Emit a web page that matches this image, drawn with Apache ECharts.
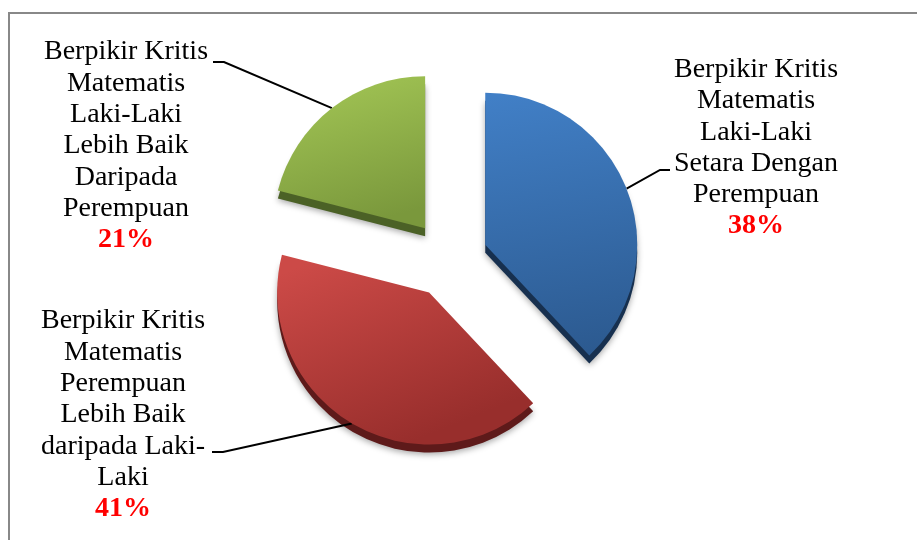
<!DOCTYPE html>
<html>
<head>
<meta charset="utf-8">
<script src="https://cdn.jsdelivr.net/npm/echarts@6/dist/echarts.min.js"></script>
<style>html,body{margin:0;padding:0;background:#fff}#c{width:917px;height:540px}</style>
</head>
<body>
<div id="c"></div>
<script>
// Data
const categories = [
  'Berpikir Kritis\nMatematis\nLaki-Laki\nSetara Dengan\nPerempuan',
  'Berpikir Kritis\nMatematis\nPerempuan\nLebih Baik\ndaripada Laki-\nLaki',
  'Berpikir Kritis\nMatematis\nLaki-Laki\nLebih Baik\nDaripada\nPerempuan'
];
const values = [38, 41, 21];

// Styles / layout
const topColors = [['#417fc6', '#2c5a90'], ['#cc4a47', '#982e2c'], ['#a3c655', '#7a983c']];
const sideColors = ['#17304f', '#5e1a1a', '#4b6126'];
const labelPos = [
  {x: 756, y: 148, line: [[660, 170], [670, 170]]},
  {x: 123, y: 415, line: [[223, 452], [212, 452]]},
  {x: 126, y: 146, line: [[224, 62], [213, 62]]}
];
const center = [449, 259];
const R = 152, depth = 8, offset = 39;

function grad(c) {
  return new echarts.graphic.LinearGradient(0.2, 0, 0.5, 1, [
    {offset: 0, color: c[0]}, {offset: 1, color: c[1]}
  ]);
}

// explode offsets derived from each slice's mid angle
const total = values.reduce((a, b) => a + b, 0);
let acc = 0;
const sliceCenters = values.map(v => {
  const mid = (acc + v / 2) / total * 2 * Math.PI;
  acc += v;
  return [center[0] + offset * Math.sin(mid), center[1] - offset * Math.cos(mid)];
});

const series = [];
values.forEach((_, k) => {
  // side (depth) layer
  series.push({
    type: 'pie', silent: true, z: 1,
    center: [sliceCenters[k][0], sliceCenters[k][1] + depth], radius: R,
    startAngle: 90, clockwise: true, emphasis: {disabled: true},
    label: {show: false}, labelLine: {show: false},
    data: values.map((v, i) => ({
      value: v, name: categories[i],
      itemStyle: i === k
        ? {color: sideColors[i], shadowBlur: 6, shadowColor: 'rgba(0,0,0,0.35)', shadowOffsetY: 2}
        : {color: 'rgba(0,0,0,0)'}
    }))
  });
});
values.forEach((_, k) => {
  series.push({
    type: 'pie', silent: true, z: 2,
    center: sliceCenters[k], radius: R,
    startAngle: 90, clockwise: true, emphasis: {disabled: true},
    label: {
      show: true, position: 'outside',
      fontFamily: 'Liberation Serif', fontSize: 28, lineHeight: 31.3,
      color: '#000', align: 'center',
      formatter: p => p.name + '\n{p|' + p.value + '%}',
      rich: {
        p: {fontFamily: 'Liberation Serif', fontSize: 28, lineHeight: 31.3, fontWeight: 'bold', color: '#ff0000', align: 'center'}
      }
    },
    labelLine: {show: true, lineStyle: {color: '#000', width: 2}},
    labelLayout: function (params) {
      const lp = labelPos[params.dataIndex];
      const start = params.labelLinePoints ? params.labelLinePoints[0] : null;
      const out = {x: lp.x, y: lp.y, align: 'center', verticalAlign: 'middle'};
      if (start) out.labelLinePoints = [start, lp.line[0], lp.line[1]];
      return out;
    },
    data: values.map((v, i) => ({
      value: v, name: categories[i],
      itemStyle: {color: i === k ? grad(topColors[i]) : 'rgba(0,0,0,0)'},
      label: {show: i === k},
      labelLine: {show: i === k}
    }))
  });
});

const chart = echarts.init(document.getElementById('c'), null, {renderer: 'canvas'});
chart.setOption({
  animation: false,
  backgroundColor: '#fff',
  graphic: [{
    type: 'rect', z: 100, silent: true,
    shape: {x: 9, y: 13, width: 1200, height: 1200},
    style: {fill: 'none', stroke: '#888', lineWidth: 2}
  }],
  series: series
});
</script>
</body>
</html>
